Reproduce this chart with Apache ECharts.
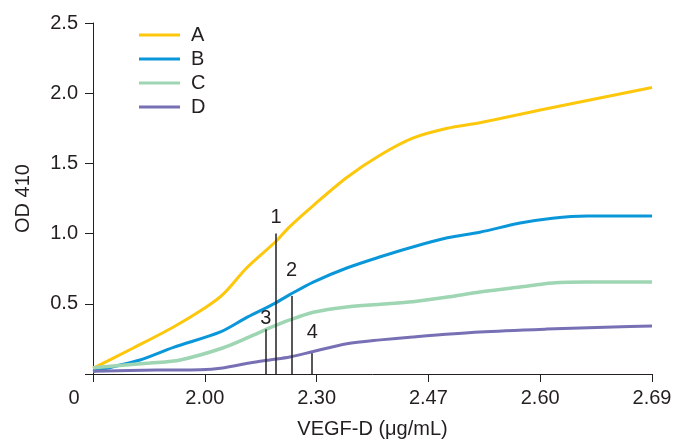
<!DOCTYPE html>
<html>
<head>
<meta charset="utf-8">
<script src="https://cdn.jsdelivr.net/npm/echarts@6/dist/echarts.min.js"></script>
<style>
  html, body { margin: 0; padding: 0; background: #fff; }
  #main { width: 677px; height: 440px; }
</style>
</head>
<body>
<div id="main"></div>
<script>
// x tick labels sit at evenly spaced positions 0..5
const xLabels = ['0', '2.00', '2.30', '2.47', '2.60', '2.69'];

// [position on the tick index scale, OD 410]
const seriesA = [[0, 0.04], [0.36, 0.185], [0.72, 0.335], [1.0, 0.47], [1.16, 0.565], [1.38, 0.76],
  [1.63, 0.94], [1.76, 1.05], [1.97, 1.2], [2.27, 1.4], [2.57, 1.56], [2.86, 1.68], [3.17, 1.75],
  [3.46, 1.79], [4.0, 1.88], [5, 2.04]];
const seriesB = [[0, 0.02], [0.42, 0.1], [0.72, 0.19], [1.14, 0.3], [1.38, 0.405], [1.63, 0.505],
  [1.76, 0.565], [1.97, 0.655], [2.27, 0.755], [2.57, 0.835], [2.86, 0.905], [3.17, 0.97],
  [3.46, 1.01], [3.82, 1.075], [4.11, 1.11], [4.42, 1.125], [5, 1.125]];
const seriesC = [[0, 0.045], [0.51, 0.078], [0.78, 0.1], [1.16, 0.185], [1.4, 0.264], [1.58, 0.328],
  [1.76, 0.385], [1.97, 0.44], [2.27, 0.478], [2.57, 0.497], [2.86, 0.515], [3.17, 0.548],
  [3.46, 0.584], [3.82, 0.62], [4.11, 0.648], [4.42, 0.655], [5, 0.655]];
const seriesD = [[0, 0.02], [0.57, 0.028], [0.96, 0.03], [1.16, 0.043], [1.4, 0.078], [1.58, 0.1],
  [1.76, 0.121], [1.97, 0.16], [2.27, 0.215], [2.57, 0.243], [2.86, 0.264], [3.46, 0.299],
  [4.06, 0.32], [4.65, 0.335], [5, 0.342]];

// vertical markers: name, x position, top value
const markerNames = ['1', '2', '3', '4'];
const markerX = [1.637, 1.777, 1.545, 1.961];
const markerTop = [1.0, 0.556, 0.318, 0.147];
const markerLabelGap = [6, 15, 1, 11];

const ink = '#231f20';
const font = 'Liberation Sans, Arial, sans-serif';
const fs = 20;

const chart = echarts.init(document.getElementById('main'));

const lineSeries = (name, data, color, width) => ({
  name: name,
  type: 'line',
  data: data,
  smooth: 0.3,
  symbol: 'none',
  lineStyle: { color: color, width: width },
  itemStyle: { color: color },
  z: 3
});

chart.setOption({
  animation: false,
  backgroundColor: '#fff',
  textStyle: { fontFamily: font },
  grid: { left: 93, right: 25, top: 23, bottom: 66, outerBoundsMode: 'none' },
  legend: {
    data: ['A', 'B', 'C', 'D'],
    orient: 'vertical',
    left: 134,
    top: 20,
    icon: 'rect',
    itemWidth: 41,
    itemHeight: 3,
    itemGap: 4,
    textStyle: { fontSize: fs, color: ink, fontFamily: font, lineHeight: 20, padding: [0, 0, 0, 6] }
  },
  xAxis: {
    type: 'value',
    min: 0,
    max: 5,
    interval: 1,
    name: 'VEGF-D (μg/mL)',
    nameLocation: 'middle',
    nameGap: 45,
    nameTextStyle: { fontSize: fs, color: ink, fontFamily: font },
    axisLine: { lineStyle: { color: ink, width: 1 } },
    axisTick: { show: true, length: 8, lineStyle: { color: ink } },
    splitLine: { show: false },
    axisLabel: {
      fontSize: fs,
      color: ink,
      margin: 14,
      fontFamily: font,
      formatter: function (v) {
        const s = xLabels[Math.round(v)];
        return Math.round(v) === 0 ? '{z|' + s + '}' : s;
      },
      rich: { z: { fontSize: fs, color: ink, fontFamily: font, padding: [0, 38, 0, 0] } }
    }
  },
  yAxis: {
    type: 'value',
    min: 0,
    max: 2.5,
    interval: 0.5,
    name: 'OD 410',
    nameLocation: 'middle',
    nameGap: 60,
    nameTextStyle: { fontSize: fs, color: ink, fontFamily: font },
    axisLine: { show: true, lineStyle: { color: ink, width: 1 } },
    axisTick: { show: true, length: 8, lineStyle: { color: ink } },
    splitLine: { show: false },
    axisLabel: {
      fontSize: fs,
      color: ink,
      margin: 15,
      fontFamily: font,
      formatter: v => (v === 0 ? '' : v.toFixed(1))
    }
  },
  series: [
    lineSeries('A', seriesA, '#fdc70c', 3),
    lineSeries('B', seriesB, '#0a97d9', 3),
    lineSeries('C', seriesC, '#9ed5b2', 3.5),
    lineSeries('D', seriesD, '#7770b4', 3),
    {
      name: 'markers',
      type: 'line',
      data: [],
      symbol: 'none',
      markLine: {
        silent: true,
        symbol: ['none', 'none'],
        lineStyle: { color: ink, width: 1.5, type: 'solid' },
        label: { show: true, position: 'end', fontSize: fs, color: ink, fontFamily: font, formatter: '{b}' },
        data: markerNames.map((n, i) => [
          { name: n, coord: [markerX[i], 0], label: { distance: markerLabelGap[i] } },
          { coord: [markerX[i], markerTop[i]] }
        ])
      },
      z: 4
    }
  ]
});

window.addEventListener('resize', () => {
  chart.resize();
});
</script>
</body>
</html>
